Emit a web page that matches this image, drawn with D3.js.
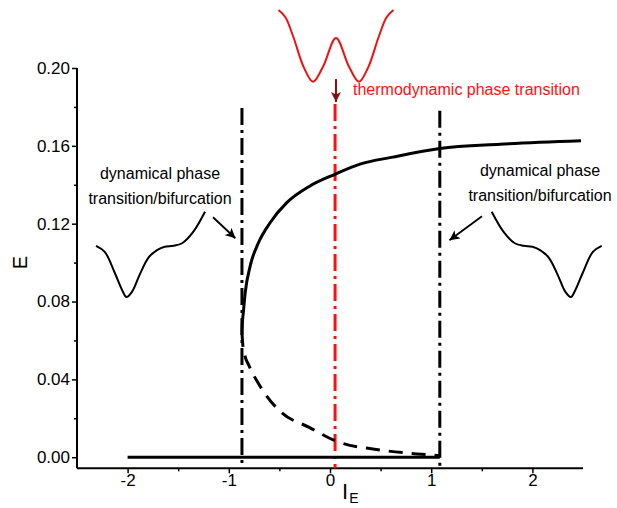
<!DOCTYPE html>
<html><head><meta charset="utf-8">
<script src="https://cdn.jsdelivr.net/npm/d3@7"></script>
<style>
body{margin:0;background:#fff}
svg{display:block}
text{font-family:Arial,"Liberation Sans",sans-serif}
</style>
</head><body>
<svg id="c" width="617" height="508"></svg>
<script>
// ---------- data ----------
const xTicks = [-2, -1, 0, 1, 2];
const xMinorTicks = [-1.5, -0.5, 0.5, 1.5];
const yTicks = [0, 0.04, 0.08, 0.12, 0.16, 0.20];
const yMinorTicks = [0.02, 0.06, 0.10, 0.14, 0.18];

// stable (upper) branch
const upperIE = [-0.87, -0.866, -0.858, -0.838, -0.789, -0.707, -0.592, -0.427, -0.197, 0.05, 0.296, 0.62, 1.085, 1.68, 2.48];
const upperE  = [0.064, 0.069, 0.0735, 0.0845, 0.0982, 0.1102, 0.1205, 0.1308, 0.1394, 0.1454, 0.1506, 0.1542, 0.1586, 0.1608, 0.1626];
// unstable (lower) branch
const lowerIE = [-0.87, -0.862, -0.845, -0.80, -0.72, -0.62, -0.48, -0.2, 0.05, 0.5, 0.86, 1.085];
const lowerE  = [0.064, 0.058, 0.053, 0.047, 0.039, 0.031, 0.023, 0.0152, 0.0085, 0.0037, 0.0017, 0.0008];
// trivial branch E = 0
const zeroIE = [-2, 1.085];
const zeroE  = [0, 0];
// transition lines
const transIE  = [-0.87, 0.05, 1.085];
const transTop = [0.1795, 0.1815, 0.178];

// potential sketches (normalised coordinate q, potential V)
const tiltQ = [0, 0.08, 0.17, 0.24, 0.28, 0.33, 0.40, 0.48, 0.56, 0.63, 0.71, 0.79, 0.89, 1.0];
const tiltV = [0.60, 0.53, 0.29, 0.08, 0.0, 0.06, 0.26, 0.46, 0.55, 0.59, 0.60, 0.63, 0.76, 1.0];
const dwQ = [0, 0.06, 0.13, 0.22, 0.30, 0.39, 0.50, 0.61, 0.70, 0.78, 0.87, 0.94, 1.0];
const dwV = [1.0, 0.9, 0.62, 0.2, 0.0, 0.22, 0.61, 0.22, 0.0, 0.2, 0.62, 0.9, 1.0];

// ---------- chart ----------
const svg = d3.select("#c");
const x = d3.scaleLinear().domain([-2.5, 2.5]).range([77, 583]);
const y = d3.scaleLinear().domain([-0.0057, 0.20]).range([468.3, 68]);

const defs = svg.append("defs");
defs.append("marker").attr("id","ab").attr("viewBox","0 0 10 10").attr("refX",10).attr("refY",5)
  .attr("markerWidth",10).attr("markerHeight",10).attr("markerUnits","userSpaceOnUse").attr("orient","auto")
  .append("path").attr("d","M0,0 L10,5 L0,10 L2.5,5 z").attr("fill","#000");
defs.append("marker").attr("id","ar").attr("viewBox","0 0 10 10").attr("refX",10).attr("refY",5)
  .attr("markerWidth",10).attr("markerHeight",10).attr("markerUnits","userSpaceOnUse").attr("orient","auto")
  .append("path").attr("d","M0,0 L10,5 L0,10 L2.5,5 z").attr("fill","#8b0a0a");

// axes
const gx = svg.append("g").attr("transform",`translate(0,${y.range()[0]})`)
  .call(d3.axisBottom(x).tickValues(xTicks).tickSize(5).tickPadding(1).tickFormat(d => String(d)));
const gxm = svg.append("g").attr("transform",`translate(0,${y.range()[0]})`)
  .call(d3.axisBottom(x).tickValues(xMinorTicks).tickSize(3).tickFormat(""));
const gy = svg.append("g").attr("transform",`translate(${x.range()[0]},0)`)
  .call(d3.axisLeft(y).tickValues(yTicks).tickSize(5).tickPadding(2).tickFormat(d => d.toFixed(2)));
const gym = svg.append("g").attr("transform",`translate(${x.range()[0]},0)`)
  .call(d3.axisLeft(y).tickValues(yMinorTicks).tickSize(3).tickFormat(""));
[gx,gxm,gy,gym].forEach(g=>{
  g.selectAll(".tick line").attr("stroke","#000").attr("stroke-width",1.5);
  g.selectAll("text").attr("font-size",17).attr("fill","#000").attr("font-family",'Arial,"Liberation Sans",sans-serif');
});
gx.select(".domain").attr("stroke","#000").attr("stroke-width",2).attr("d",`M${x.range()[0]},0H${x.range()[1]}`);
gy.select(".domain").attr("stroke","#000").attr("stroke-width",2).attr("d",`M0,${y.range()[0]}V${y.range()[1]}`);
gxm.select(".domain").remove(); gym.select(".domain").remove();

// axis titles
svg.append("text").attr("transform",`translate(27,${y(0.1)}) rotate(-90)`).attr("text-anchor","middle")
  .attr("font-size",20).text("E");
const xl = svg.append("text").attr("x",342).attr("y",499).attr("font-size",22);
xl.append("tspan").text("I");
xl.append("tspan").attr("font-size",14).attr("dy",4).attr("dx",1).text("E");

const line = d3.line().x(d=>x(d[0])).y(d=>y(d[1]));

// transition lines
transIE.forEach((v,i)=>{
  svg.append("line").attr("x1",x(v)).attr("x2",x(v)).attr("y1",y(transTop[i])).attr("y2",y.range()[0])
    .attr("stroke", i===1 ? "#ff1010" : "#000").attr("stroke-width",3)
    .attr("stroke-dasharray","17,5,3,5");
});

// zero branch
svg.append("path").datum(zeroIE.map((v,i)=>[v,zeroE[i]])).attr("d",line)
  .attr("fill","none").attr("stroke","#000").attr("stroke-width",3);
// upper branch
svg.append("path").datum(upperIE.map((v,i)=>[v,upperE[i]])).attr("d",line.curve(d3.curveMonotoneX))
  .attr("fill","none").attr("stroke","#000").attr("stroke-width",3);
// lower branch
svg.append("path").datum(lowerIE.map((v,i)=>[v,lowerE[i]])).attr("d",line.curve(d3.curveMonotoneX))
  .attr("fill","none").attr("stroke","#000").attr("stroke-width",3).attr("stroke-dasharray","14,9");

// annotations
function label(lines, cx, y0, anchor, color, size){
  lines.forEach((t,i)=>svg.append("text").attr("x",cx).attr("y",y0+i*25).attr("text-anchor",anchor)
    .attr("font-size",size).attr("fill",color).text(t));
}
label(["dynamical phase","transition/bifurcation"], 160, 179, "middle", "#000", 16);
label(["dynamical phase","transition/bifurcation"], 540, 176, "middle", "#000", 16);
label(["thermodynamic phase transition"], 353, 95, "start", "#ff1010", 16);

svg.append("line").attr("x1",x(-1.156)).attr("y1",y(0.1233)).attr("x2",x(-0.935)).attr("y2",y(0.1125))
  .attr("stroke","#000").attr("stroke-width",1.8).attr("marker-end","url(#ab)");
svg.append("line").attr("x1",x(1.502)).attr("y1",y(0.1238)).attr("x2",x(1.18)).attr("y2",y(0.1115))
  .attr("stroke","#000").attr("stroke-width",1.8).attr("marker-end","url(#ab)");
svg.append("line").attr("x1",x(0.059)).attr("y1",y(0.1943)).attr("x2",x(0.059)).attr("y2",y(0.1825))
  .attr("stroke","#8b0a0a").attr("stroke-width",2).attr("marker-end","url(#ar)");

// potential insets
function inset(q, v, x0, x1, yb, yt, color){
  const sx = d3.scaleLinear().domain([0,1]).range([x0,x1]);
  const sy = d3.scaleLinear().domain([0,1]).range([yb,yt]);
  svg.append("path").datum(q.map((d,i)=>[d,v[i]]))
    .attr("d", d3.line().x(d=>sx(d[0])).y(d=>sy(d[1])).curve(d3.curveCatmullRom))
    .attr("fill","none").attr("stroke",color).attr("stroke-width",2);
}
inset(tiltQ, tiltV, 96, 205, 297, 211.7, "#000");
inset(tiltQ, tiltV, 601.7, 491.7, 297, 211.7, "#000");
inset(dwQ, dwV, 278.5, 393.5, 81.7, 10, "#ee1111");
</script>
</body></html>
